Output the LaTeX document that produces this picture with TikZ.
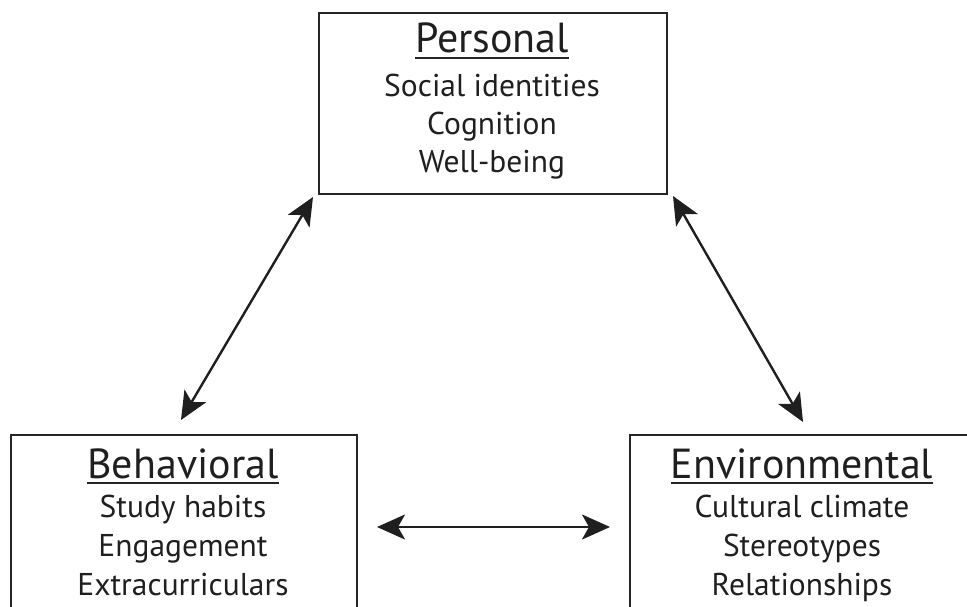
\documentclass[tikz,border=0pt]{standalone}
\usepackage{fontspec}
\setmainfont{PT Sans}
\usetikzlibrary{arrows.meta}
\begin{document}
\begin{tikzpicture}[x=1pt,y=-1pt,
  box/.style={draw=black!85, line width=2pt, anchor=north west, inner sep=0pt},
  head/.style={font=\fontsize{42}{42}\selectfont, anchor=base, inner sep=0pt, text=black!88},
  item/.style={font=\fontsize{31.5}{31.5}\selectfont, anchor=base, inner sep=0pt, text=black!88},
  uline/.style={draw=black!85, line width=1.6pt},
  link/.style={draw=black!88, line width=2.4pt, {Stealth[length=28pt, width=25pt, inset=7pt]}-{Stealth[length=28pt, width=25pt, inset=7pt]}}]
\useasboundingbox (0,0) rectangle (967,607);
\clip (0,0) rectangle (967,607);

% the three boxes
\node[box, minimum width=348pt, minimum height=181pt] (pbox) at (318,12) {};
\node[box, minimum width=346pt, minimum height=220pt] (bbox) at (10,434) {};
\node[box, minimum width=346pt, minimum height=220pt] (ebox) at (629,434) {};

% Personal
\node[head] (ph) at (492,53) {Personal};
\draw[uline] ([yshift=-5pt]ph.base west) -- ([yshift=-5pt]ph.base east);
\node[item] (p1) at (492,97) {Social identities};
\node[item] (p2) at (492,135) {Cognition};
\node[item] (p3) at (492,173) {Well-being};

% Behavioral
\node[head] (bh) at (183,478) {Behavioral};
\draw[uline] ([yshift=-5pt]bh.base west) -- ([yshift=-5pt]bh.base east);
\node[item] (b1) at (183,517) {Study habits};
\node[item] (b2) at (183,556) {Engagement};
\node[item] (b3) at (183,595) {Extracurriculars};

% Environmental
\node[head] (eh) at (802,478) {Environmental};
\draw[uline] ([yshift=-5pt]eh.base west) -- ([yshift=-5pt]eh.base east);
\node[item] (e1) at (802,517) {Cultural climate};
\node[item] (e2) at (802,556) {Stereotypes};
\node[item] (e3) at (802,595) {Relationships};

% arrow end points between the boxes
\coordinate (pl) at (313,197);
\coordinate (bl) at (181,420);
\coordinate (pr) at (673,196);
\coordinate (er) at (803,422);
\coordinate (bm) at (377,527);
\coordinate (em) at (610,527);

\draw[link] (pl) -- (bl);
\draw[link] (pr) -- (er);
\draw[link] (bm) -- (em);
\end{tikzpicture}
\end{document}
